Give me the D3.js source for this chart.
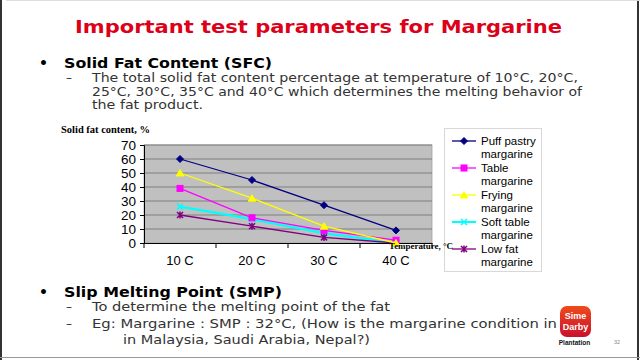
<!DOCTYPE html>
<html><head><meta charset="utf-8">
<script src="https://cdn.jsdelivr.net/npm/d3@7/dist/d3.min.js"></script>
<style>html,body{margin:0;padding:0;background:#fff;}svg{display:block;}</style>
</head><body>
<svg id="c" width="640" height="360"></svg>
<script>
const categories = ["10 C", "20 C", "30 C", "40 C"];
const seriesNames = ["Puff pastry margarine", "Table margarine", "Frying margarine", "Soft table margarine", "Low fat margarine"];
const puffPastry = [60, 45, 27, 9];
const tableMarg = [39, 18, 9, 2];
const frying = [50, 32, 12, 0];
const softTable = [26, 17, 7, 0];
const lowFat = [20, 12, 4, 0];
const yTicks = [0, 10, 20, 30, 40, 50, 60, 70];

const seriesValues = [puffPastry, tableMarg, frying, softTable, lowFat];
const colors = ["#000080", "#ff00ff", "#ffff00", "#00ffff", "#800080"];
const markers = ["diamond", "square", "triangle", "x", "star"];

const svg = d3.select("#c");

// slide frame
svg.append("rect").attr("x", 0).attr("y", 0).attr("width", 640).attr("height", 360).attr("fill", "#fff");
svg.append("line").attr("x1", 1).attr("x2", 1).attr("y1", 0).attr("y2", 360).attr("stroke", "#333").attr("stroke-width", 2);
svg.append("line").attr("x1", 638).attr("x2", 638).attr("y1", 0).attr("y2", 360).attr("stroke", "#333").attr("stroke-width", 2);
svg.append("line").attr("x1", 0).attr("x2", 640).attr("y1", 357.5).attr("y2", 357.5).attr("stroke", "#999").attr("stroke-width", 1);
svg.append("line").attr("x1", 6).attr("x2", 640).attr("y1", 0.5).attr("y2", 0.5).attr("stroke", "#ddd").attr("stroke-width", 1);

const body = "'DejaVu Sans', Verdana, sans-serif";
function txt(s, x, y, opts) {
  const t = svg.append("text").attr("x", x).attr("y", y).text(s)
    .attr("font-family", opts.family || body)
    .attr("font-size", opts.size)
    .attr("font-weight", opts.weight || "normal")
    .attr("fill", opts.fill || "#000");
  if (opts.len) t.attr("textLength", opts.len).attr("lengthAdjust", "spacingAndGlyphs");
  if (opts.anchor) t.attr("text-anchor", opts.anchor);
  return t;
}

// Title
txt("Important test parameters for Margarine", 75, 33, {size: 18, weight: "bold", fill: "#dc0018", len: 487});
// SFC section
txt("•", 39, 68, {size: 14, weight: "bold"});
txt("Solid Fat Content (SFC)", 64, 68, {size: 14, weight: "bold", len: 208});
txt("–", 66, 82, {size: 12, fill: "#333"});
txt("The total solid fat content percentage at temperature of 10°C, 20°C,", 92, 82, {size: 12, fill: "#333", len: 486});
txt("25°C, 30°C, 35°C and 40°C which determines the melting behavior of", 92, 96, {size: 12, fill: "#333", len: 490});
txt("the fat product.", 92, 109, {size: 12, fill: "#333", len: 111});

// SMP section
txt("•", 39, 297, {size: 14, weight: "bold"});
txt("Slip Melting Point (SMP)", 64, 297, {size: 14, weight: "bold", len: 218});
txt("–", 66, 311, {size: 12, fill: "#333"});
txt("To determine the melting point of the fat", 92, 311, {size: 12, fill: "#333", len: 298});
txt("–", 66, 328, {size: 12, fill: "#333"});
txt("Eg: Margarine : SMP : 32°C, (How is the margarine condition in", 92, 328, {size: 12, fill: "#333", len: 465});
txt("in Malaysia, Saudi Arabia, Nepal?)", 123, 344, {size: 12, fill: "#333", len: 247});

// Logo
const grad = svg.append("defs").append("linearGradient").attr("id", "lg").attr("x1", 0).attr("y1", 0).attr("x2", 0).attr("y2", 1);
grad.append("stop").attr("offset", "0%").attr("stop-color", "#f04a1a");
grad.append("stop").attr("offset", "100%").attr("stop-color", "#c8102e");
svg.append("rect").attr("x", 560).attr("y", 306).attr("width", 31).attr("height", 31).attr("rx", 7).attr("fill", "url(#lg)");
txt("Sime", 575.5, 319, {size: 9, weight: "bold", fill: "#fff", anchor: "middle", family: "'Liberation Sans', Arial, sans-serif"});
txt("Darby", 575.5, 329.5, {size: 9, weight: "bold", fill: "#fff", anchor: "middle", family: "'Liberation Sans', Arial, sans-serif"});
txt("Plantation", 574.5, 345, {size: 6.5, weight: "bold", fill: "#111", anchor: "middle", family: "'Liberation Sans', Arial, sans-serif"});
txt("32", 614, 344, {size: 5.5, fill: "#888", family: "'Liberation Sans', Arial, sans-serif"});

// Chart
const plotL = 144, plotR = 432, plotT = 145, plotB = 243;
const x = d3.scaleBand().domain(categories).range([plotL, plotR]);
const y = d3.scaleLinear().domain([0, 70]).range([plotB, plotT]);

svg.append("rect").attr("x", plotL).attr("y", plotT).attr("width", plotR - plotL).attr("height", plotB - plotT)
  .attr("fill", "#c0c0c0").attr("stroke", "#a0a0a0").attr("stroke-width", 0.8);

svg.append("g").selectAll("line").data(yTicks.filter(d => d > 0)).join("line")
  .attr("x1", plotL).attr("x2", plotR)
  .attr("y1", d => y(d)).attr("y2", d => y(d))
  .attr("stroke", "#7f7f7f").attr("stroke-width", 1);

const yAxis = svg.append("g").attr("transform", `translate(${plotL},0)`)
  .call(d3.axisLeft(y).tickValues(yTicks).tickSize(4).tickPadding(4));
yAxis.select(".domain").attr("stroke", "#000");
yAxis.selectAll(".tick line").attr("stroke", "#000");
yAxis.selectAll(".tick text").attr("font-family", "'Liberation Sans', Arial, sans-serif").attr("font-size", 13.5).attr("fill", "#000");

// x axis line and ticks at category boundaries
const xAxis = svg.append("g").attr("transform", `translate(0,${plotB})`)
  .call(d3.axisBottom(x).tickSize(0).tickPadding(13));
xAxis.select(".domain").attr("stroke", "#000");
xAxis.selectAll(".tick text").attr("font-family", "'Liberation Sans', Arial, sans-serif").attr("font-size", 13).attr("fill", "#000");
const bounds = categories.map(c => x(c)).concat([x(categories[categories.length - 1]) + x.bandwidth()]);
svg.append("g").selectAll("line").data(bounds).join("line")
  .attr("x1", d => d).attr("x2", d => d).attr("y1", plotB).attr("y2", plotB + 5)
  .attr("stroke", "#000").attr("stroke-width", 1);

txt("Solid fat content, %", 61, 133, {size: 9.5, weight: "bold", family: "'Liberation Serif', 'Times New Roman', serif", len: 89});

const cx = c => x(c) + x.bandwidth() / 2;
const line = d3.line().x((d, i) => cx(categories[i])).y(d => y(d));

function drawMarker(g, type, color, px, py) {
  if (type === "diamond") {
    g.append("path").attr("d", `M${px},${py-3.5}L${px+3.5},${py}L${px},${py+3.5}L${px-3.5},${py}Z`).attr("fill", color).attr("stroke", color);
  } else if (type === "square") {
    g.append("rect").attr("x", px - 3).attr("y", py - 3).attr("width", 6).attr("height", 6).attr("fill", color).attr("stroke", color);
  } else if (type === "triangle") {
    g.append("path").attr("d", `M${px},${py-3.5}L${px+3.8},${py+3}L${px-3.8},${py+3}Z`).attr("fill", color).attr("stroke", color);
  } else if (type === "x") {
    g.append("path").attr("d", `M${px-3},${py-3}L${px+3},${py+3}M${px-3},${py+3}L${px+3},${py-3}`).attr("stroke", color).attr("stroke-width", 1.5).attr("fill", "none");
  } else if (type === "star") {
    g.append("path").attr("d", `M${px-3},${py-3}L${px+3},${py+3}M${px-3},${py+3}L${px+3},${py-3}M${px},${py-3.5}L${px},${py+3.5}`).attr("stroke", color).attr("stroke-width", 1.5).attr("fill", "none");
  }
}

const order = [3, 4, 1, 2, 0];
order.forEach(si => {
  const g = svg.append("g");
  g.append("path").datum(seriesValues[si]).attr("d", line)
    .attr("fill", "none").attr("stroke", colors[si]).attr("stroke-width", si === 3 ? 2.2 : 1.3);
  seriesValues[si].forEach((v, i) => drawMarker(g, markers[si], colors[si], cx(categories[i]), y(v)));
});

// Legend
const lg = svg.append("g");
lg.append("rect").attr("x", 444.5).attr("y", 128.5).attr("width", 97).attr("height", 143)
  .attr("fill", "#fff").attr("stroke", "#d8d8d8").attr("stroke-width", 1);
seriesNames.forEach((name, i) => {
  const yy = 141 + i * 27;
  const parts = name.split(" margarine");
  lg.append("line").attr("x1", 452).attr("x2", 476).attr("y1", yy).attr("y2", yy)
    .attr("stroke", colors[i]).attr("stroke-width", i === 3 ? 2 : 1.3);
  drawMarker(lg, markers[i], colors[i], 464, yy);
  lg.append("text").attr("x", 481).attr("y", yy + 4).text(parts[0])
    .attr("font-family", "'Liberation Sans', Arial, sans-serif").attr("font-size", 11.5);
  lg.append("text").attr("x", 481).attr("y", yy + 17).text("margarine")
    .attr("font-family", "'Liberation Sans', Arial, sans-serif").attr("font-size", 11.5);
});

// axis title drawn on top of the legend, as in the reference
txt("Temperature, °C", 389, 249, {size: 9, weight: "bold", family: "'Liberation Serif', 'Times New Roman', serif", len: 64});
</script>
</body></html>
